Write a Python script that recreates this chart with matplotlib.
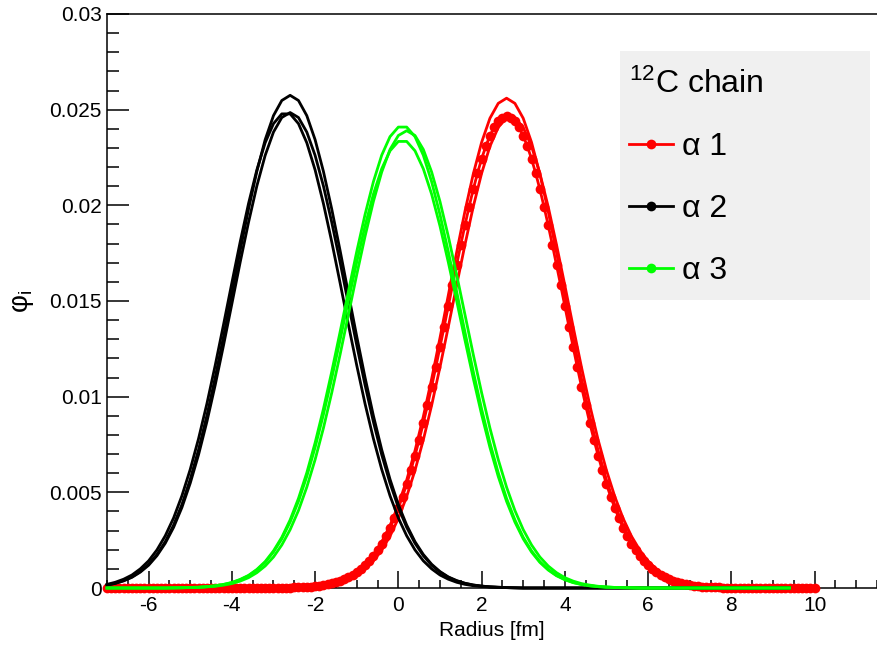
import numpy as np
import matplotlib
matplotlib.use('Agg')
import matplotlib.pyplot as plt
from matplotlib.lines import Line2D
from matplotlib.patches import Rectangle
from matplotlib.ticker import MultipleLocator, FuncFormatter

plt.rcParams['font.family'] = ['Liberation Sans', 'DejaVu Sans']
plt.rcParams['mathtext.fontset'] = 'custom'
plt.rcParams['mathtext.rm'] = 'Liberation Sans'
plt.rcParams['mathtext.it'] = 'Liberation Sans:italic'

# radius grids [fm]
r_bg = np.linspace(-7.0, 9.4, 83)     # alpha 2 / alpha 3 curves
r_red = np.linspace(-7.0, 10.0, 86)   # alpha 1 curves
r_pts = np.linspace(-7.0, 10.0, 171)  # alpha 1 curve drawn with markers

# phi_i, in units of 1e-3
black_1 = [0.16, 0.25, 0.39, 0.58, 0.86, 1.24, 1.75, 2.42, 3.29, 4.36,
           5.68, 7.23, 9.01, 11.00, 13.15, 15.39, 17.64, 19.80, 21.77, 23.43,
           24.69, 25.48, 25.75, 25.48, 24.69, 23.43, 21.77, 19.80, 17.64, 15.39,
           13.15, 11.00, 9.01, 7.23, 5.68, 4.36, 3.29, 2.42, 1.75, 1.24,
           0.86, 0.58, 0.39, 0.25, 0.16, 0.10, 0.06, 0.04, 0.02, 0.01,
           0, 0, 0, 0, 0, 0, 0, 0, 0, 0,
           0, 0, 0, 0, 0, 0, 0, 0, 0, 0,
           0, 0, 0, 0, 0, 0, 0, 0, 0, 0,
           0, 0, 0]
black_2 = [0.15, 0.24, 0.37, 0.56, 0.83, 1.19, 1.69, 2.34, 3.17, 4.21,
           5.48, 6.97, 8.69, 10.61, 12.69, 14.85, 17.03, 19.11, 21.01, 22.61,
           23.83, 24.59, 24.85, 24.59, 23.83, 22.61, 21.01, 19.11, 17.03, 14.85,
           12.69, 10.61, 8.69, 6.97, 5.48, 4.21, 3.17, 2.34, 1.69, 1.19,
           0.83, 0.56, 0.37, 0.24, 0.15, 0.10, 0.06, 0.04, 0.02, 0.01,
           0, 0, 0, 0, 0, 0, 0, 0, 0, 0,
           0, 0, 0, 0, 0, 0, 0, 0, 0, 0,
           0, 0, 0, 0, 0, 0, 0, 0, 0, 0,
           0, 0, 0]
black_3 = [0.19, 0.30, 0.46, 0.68, 1.00, 1.42, 1.99, 2.73, 3.66, 4.82,
           6.20, 7.81, 9.63, 11.64, 13.77, 15.95, 18.09, 20.09, 21.85, 23.27,
           24.27, 24.78, 24.78, 24.27, 23.27, 21.85, 20.09, 18.09, 15.95, 13.77,
           11.64, 9.63, 7.81, 6.20, 4.82, 3.66, 2.73, 1.99, 1.42, 1.00,
           0.68, 0.46, 0.30, 0.19, 0.12, 0.08, 0.05, 0.03, 0.02, 0.01,
           0, 0, 0, 0, 0, 0, 0, 0, 0, 0,
           0, 0, 0, 0, 0, 0, 0, 0, 0, 0,
           0, 0, 0, 0, 0, 0, 0, 0, 0, 0,
           0, 0, 0]

green_1 = [0, 0, 0, 0, 0, 0, 0, 0,
           0.01, 0.02, 0.03, 0.04, 0.07, 0.12, 0.19, 0.29, 0.45, 0.66,
           0.97, 1.38, 1.94, 2.65, 3.56, 4.68, 6.02, 7.59, 9.36, 11.31,
           13.38, 15.50, 17.58, 19.52, 21.23, 22.62, 23.59, 24.09,
           24.09, 23.59, 22.62, 21.23, 19.52, 17.58, 15.50, 13.38,
           11.31, 9.36, 7.59, 6.02, 4.68, 3.56, 2.65, 1.94, 1.38, 0.97,
           0.66, 0.45, 0.29, 0.19, 0.12, 0.07, 0.04, 0.03, 0.02, 0.01,
           0, 0, 0, 0, 0, 0, 0, 0, 0, 0,
           0, 0, 0, 0, 0, 0, 0, 0, 0]
green_2 = [0, 0, 0, 0, 0, 0, 0, 0, 0,
           0.01, 0.02, 0.03, 0.06, 0.09, 0.15, 0.23, 0.36, 0.54, 0.80,
           1.15, 1.62, 2.25, 3.05, 4.05, 5.27, 6.71, 8.36, 10.21, 12.20,
           14.29, 16.38, 18.38, 20.20, 21.74, 22.92, 23.65,
           23.90,
           23.65, 22.92, 21.74, 20.20, 18.38, 16.38, 14.29,
           12.20, 10.21, 8.36, 6.71, 5.27, 4.05, 3.05, 2.25, 1.62, 1.15,
           0.80, 0.54, 0.36, 0.23, 0.15, 0.09, 0.06, 0.03, 0.02, 0.01,
           0, 0, 0, 0, 0, 0, 0, 0, 0, 0,
           0, 0, 0, 0, 0, 0, 0, 0, 0]
green_3 = [0, 0, 0, 0, 0, 0, 0, 0,
           0.01, 0.01, 0.03, 0.04, 0.07, 0.11, 0.18, 0.28, 0.43, 0.64,
           0.94, 1.34, 1.88, 2.57, 3.45, 4.53, 5.83, 7.35, 9.07, 10.96,
           12.96, 15.02, 17.03, 18.92, 20.58, 21.91, 22.85, 23.34,
           23.34, 22.85, 21.91, 20.58, 18.92, 17.03, 15.02, 12.96,
           10.96, 9.07, 7.35, 5.83, 4.53, 3.45, 2.57, 1.88, 1.34, 0.94,
           0.64, 0.43, 0.28, 0.18, 0.11, 0.07, 0.04, 0.03, 0.01, 0.01,
           0, 0, 0, 0, 0, 0, 0, 0, 0, 0,
           0, 0, 0, 0, 0, 0, 0, 0, 0]

red_1 = [0, 0, 0, 0, 0, 0, 0, 0, 0, 0,
         0, 0, 0, 0, 0, 0, 0, 0, 0, 0,
         0,
         0.01, 0.02, 0.04, 0.06, 0.10, 0.16, 0.25, 0.38, 0.58, 0.85,
         1.23, 1.74, 2.41, 3.27, 4.34, 5.64, 7.18, 8.96, 10.93, 13.07,
         15.30, 17.54, 19.69, 21.64, 23.29, 24.55, 25.33,
         25.60,
         25.33, 24.55, 23.29, 21.64, 19.69, 17.54, 15.30,
         13.07, 10.93, 8.96, 7.18, 5.64, 4.34, 3.27, 2.41, 1.74, 1.23,
         0.85, 0.58, 0.38, 0.25, 0.16, 0.10, 0.06, 0.04, 0.02, 0.01,
         0, 0, 0, 0, 0, 0, 0, 0, 0, 0]
red_3 = [0, 0, 0, 0, 0, 0, 0, 0, 0, 0,
         0, 0, 0, 0, 0, 0, 0, 0, 0, 0,
         0,
         0.01, 0.02, 0.03, 0.05, 0.07, 0.12, 0.19, 0.30, 0.45, 0.68,
         0.99, 1.41, 1.98, 2.71, 3.64, 4.78, 6.15, 7.74, 9.55, 11.54,
         13.65, 15.82, 17.94, 19.93, 21.67, 23.08, 24.07, 24.59,
         24.59, 24.07, 23.08, 21.67, 19.93, 17.94, 15.82, 13.65,
         11.54, 9.55, 7.74, 6.15, 4.78, 3.64, 2.71, 1.98, 1.41, 0.99,
         0.68, 0.45, 0.30, 0.19, 0.12, 0.07, 0.05, 0.03, 0.02, 0.01,
         0, 0, 0, 0, 0, 0, 0, 0, 0]
red_2 = [0, 0, 0, 0, 0, 0, 0, 0, 0, 0,
         0, 0, 0, 0, 0, 0, 0, 0, 0, 0,
         0, 0, 0, 0, 0, 0, 0, 0, 0, 0,
         0, 0, 0, 0, 0, 0, 0, 0, 0, 0,
         0,
         0.01, 0.01, 0.02, 0.02, 0.03, 0.03, 0.05, 0.06, 0.07, 0.10,
         0.12, 0.15, 0.19, 0.24, 0.30, 0.37, 0.45, 0.56, 0.68, 0.82,
         0.99, 1.18, 1.41, 1.68, 1.98, 2.32, 2.71, 3.15, 3.64, 4.18,
         4.78, 5.43, 6.15, 6.92, 7.74, 8.62, 9.55, 10.53, 11.54, 12.59,
         13.65, 14.73, 15.82, 16.89, 17.94, 18.96, 19.93, 20.84, 21.67, 22.43,
         23.08, 23.64, 24.07, 24.39, 24.59,
         24.65,
         24.59, 24.39, 24.07, 23.64, 23.08,
         22.43, 21.67, 20.84, 19.93, 18.96, 17.94, 16.89, 15.82, 14.73, 13.65,
         12.59, 11.54, 10.53, 9.55, 8.62, 7.74, 6.92, 6.15, 5.43, 4.78,
         4.18, 3.64, 3.15, 2.71, 2.32, 1.98, 1.68, 1.41, 1.18, 0.99,
         0.82, 0.68, 0.56, 0.45, 0.37, 0.30, 0.24, 0.19, 0.15, 0.12,
         0.10, 0.07, 0.06, 0.05, 0.03, 0.03, 0.02, 0.02, 0.01, 0.01,
         0, 0, 0, 0, 0, 0, 0, 0, 0, 0,
         0, 0, 0, 0, 0, 0, 0, 0, 0]

legend_title = '$^{12}$C chain'
legend_labels = ['α 1', 'α 2', 'α 3']
colors = ['#ff0000', '#000000', '#00ff00']

fig = plt.figure(figsize=(8.77, 6.45), dpi=100)
ax = fig.add_axes([107 / 877, 57 / 645, 770 / 877, 574 / 645])

lw = 2.0
ms = 7.0
for ys in (red_1, red_3):
    ax.plot(r_red, np.array(ys) * 1e-3, color=colors[0], lw=lw, zorder=3, clip_on=False)
ax.plot(r_pts, np.array(red_2) * 1e-3, color=colors[0], lw=lw, marker='o', ms=ms,
        mew=0, zorder=3, clip_on=False)
for ys in (black_1, black_2, black_3):
    ax.plot(r_bg, np.array(ys) * 1e-3, color=colors[1], lw=lw, zorder=4, clip_on=False)
for ys in (green_1, green_2, green_3):
    ax.plot(r_bg, np.array(ys) * 1e-3, color=colors[2], lw=lw, zorder=5, clip_on=False)

ax.set_xlim(-7, 11.5)
ax.set_ylim(0, 0.03)

ax.xaxis.set_major_locator(MultipleLocator(2))
ax.xaxis.set_minor_locator(MultipleLocator(0.5))
ax.yaxis.set_major_locator(MultipleLocator(0.005))
ax.yaxis.set_minor_locator(MultipleLocator(0.001))
ax.yaxis.set_major_formatter(FuncFormatter(lambda v, _: f'{v:g}'))
ax.xaxis.set_major_formatter(FuncFormatter(lambda v, _: f'{v:g}'))

ax.tick_params(which='both', direction='in', top=False, right=False, width=1.1,
               labelsize=15)
ax.tick_params(axis='y', which='major', length=16, pad=3.6)
ax.tick_params(axis='y', which='minor', length=8.5)
ax.tick_params(axis='x', which='major', length=12, pad=5.8)
ax.tick_params(axis='x', which='minor', length=6)

for side in ('left', 'bottom', 'top'):
    ax.spines[side].set_linewidth(1.1)
ax.spines['right'].set_visible(False)

ax.set_xlabel('Radius [fm]', fontsize=15)
ax.xaxis.set_label_coords(0.5, -0.058)
ax.xaxis.label.set_va('top')
ax.set_ylabel('φ$_\\mathregular{i}$', fontsize=20)
ax.yaxis.set_label_coords(-0.092, 0.5)

# grey legend pad (ROOT TLegend fill)
ax.add_patch(Rectangle((513 / 770, 288 / 574), 250 / 770, 249 / 574,
                       transform=ax.transAxes, facecolor='#f0f0f0',
                       edgecolor='none', zorder=5.5, clip_on=False))

handles = [Line2D([], [], color=c, lw=lw, marker='o', ms=ms, mew=0) for c in colors]
leg = ax.legend(handles, legend_labels, title=legend_title, loc='upper left',
                bbox_to_anchor=(522 / 770, 519 / 574),
                borderaxespad=0, fontsize=23, title_fontsize=23, alignment='left',
                frameon=False, handlelength=1.37, handletextpad=0.28,
                labelspacing=1.0, borderpad=0)
leg.set_zorder(6)

fig.savefig('out.png', dpi=100)
